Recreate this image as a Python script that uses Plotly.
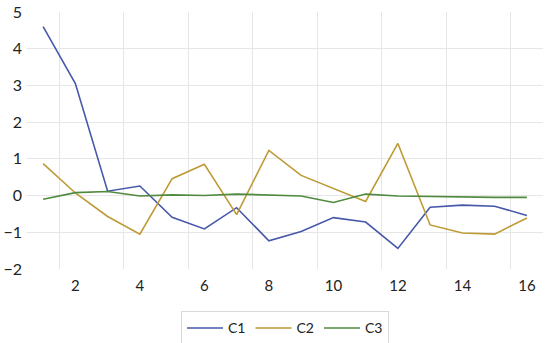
import plotly.graph_objects as go

x_vals = list(range(1, 17))
c1 = [4.6, 3.05, 0.12, 0.26, -0.59, -0.91, -0.33, -1.23, -0.98, -0.6, -0.72, -1.44, -0.32, -0.26, -0.29, -0.54]
c2 = [0.87, 0.07, -0.57, -1.05, 0.46, 0.85, -0.52, 1.23, 0.55, 0.19, -0.16, 1.42, -0.8, -1.02, -1.05, -0.61]
c3 = [-0.1, 0.08, 0.11, -0.01, 0.02, 0.0, 0.04, 0.01, -0.01, -0.19, 0.04, -0.01, -0.03, -0.05, -0.05, -0.05]
series_names = ["C1", "C2", "C3"]
colors = ["#4658AA", "#BE9A35", "#4F8A3E"]
x_tick_vals = [2, 4, 6, 8, 10, 12, 14, 16]
y_tick_vals = [-2, -1, 0, 1, 2, 3, 4, 5]

fig = go.Figure()
for name, vals, col in zip(series_names, [c1, c2, c3], colors):
    fig.add_trace(go.Scatter(x=x_vals, y=vals, mode="lines", name=name,
                             line=dict(color=col, width=1.6)))

font_family = "Lato, 'Open Sans', sans-serif"
fig.update_layout(
    width=550, height=343,
    margin=dict(l=27, r=7, t=12, b=74, autoexpand=False),
    paper_bgcolor="white", plot_bgcolor="white",
    font=dict(family=font_family, size=13, color="#222222"),
    showlegend=True,
    legend=dict(orientation="h", x=0.5, xanchor="center", y=-0.165, yanchor="top",
                bordercolor="#D9D9D9", borderwidth=1, font=dict(size=14),
                itemwidth=36, tracegroupgap=0),
    xaxis=dict(range=[0.5, 16.5], tickvals=x_tick_vals, showgrid=False,
               zeroline=False, showline=False, ticks="", automargin=False,
               tickfont=dict(size=15), ticklabelstandoff=6,
               minor=dict(tick0=1.5, dtick=2, showgrid=True, gridcolor="#E6E6E6", gridwidth=1)),
    yaxis=dict(range=[-2, 5], tickvals=y_tick_vals, showgrid=True, gridcolor="#E6E6E6",
               zeroline=False, showline=False, ticks="", automargin=False,
               tickfont=dict(size=16), ticklabelstandoff=4),
)

fig.write_html("out.html", config={"displayModeBar": False},
               post_script="document.body.style.margin='0';document.body.style.overflow='hidden';")
